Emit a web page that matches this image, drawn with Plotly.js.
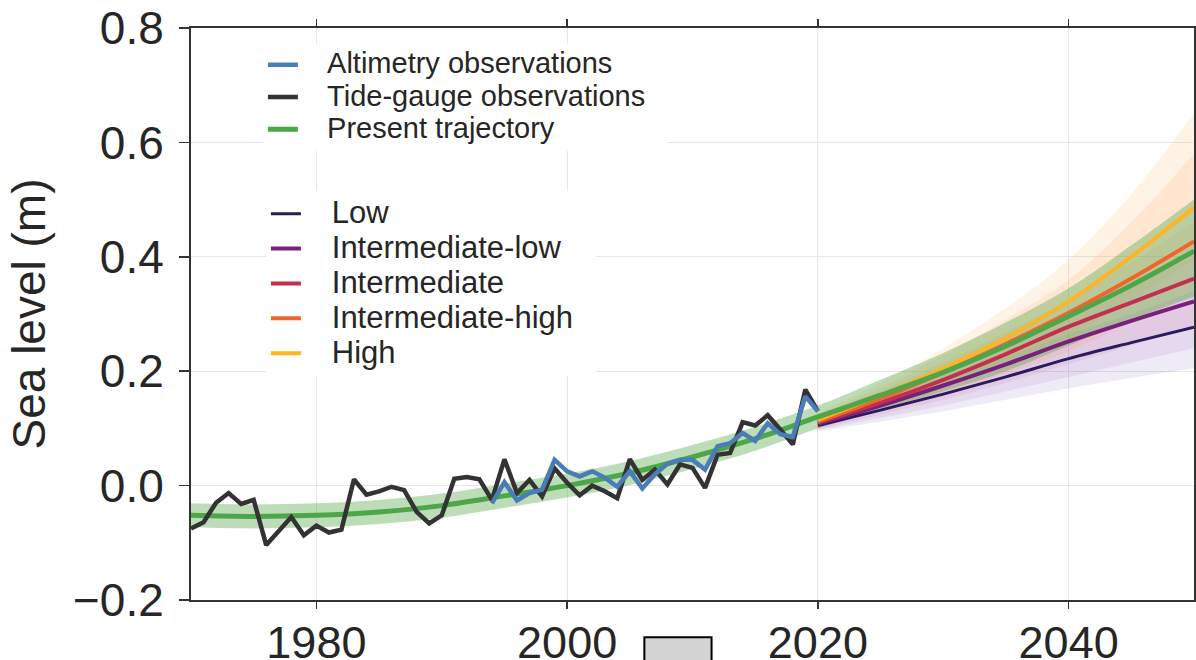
<!DOCTYPE html>
<html>
<head>
<meta charset="utf-8">
<script src="https://cdn.plot.ly/plotly-3.0.1.min.js"></script>
<style>html,body{margin:0;padding:0;background:#fff;}#chart{width:1196px;height:660px;}</style>
</head>
<body>
<div id="chart"></div>
<script>
// ---- Data ----
const tideYears = [1970,1971,1972,1973,1974,1975,1976,1977,1978,1979,1980,1981,1982,1983,1984,1985,1986,1987,1988,1989,1990,1991,1992,1993,1994,1995,1996,1997,1998,1999,2000,2001,2002,2003,2004,2005,2006,2007,2008,2009,2010,2011,2012,2013,2014,2015,2016,2017,2018,2019,2020];
const tideLevel = [-0.075,-0.064,-0.030,-0.013,-0.032,-0.025,-0.104,-0.080,-0.055,-0.087,
  -0.070,-0.082,-0.077,0.011,-0.016,-0.010,-0.002,-0.008,-0.046,-0.066,
  -0.052,0.012,0.015,0.011,-0.025,0.046,-0.013,0.010,-0.019,0.030,
  0.005,-0.017,0.000,-0.010,-0.022,0.046,0.010,0.028,0.002,0.037,
  0.031,-0.004,0.054,0.057,0.111,0.105,0.123,0.098,0.072,0.168,0.130];

const altYears = [1994,1995,1996,1997,1998,1999,2000,2001,2002,2003,2004,2005,2006,2007,2008,2009,2010,2011,2012,2013,2014,2015,2016,2017,2018,2019,2020];
const altLevel = [-0.031,0.006,-0.026,-0.013,-0.007,0.045,0.025,0.016,0.025,0.014,-0.002,0.025,-0.005,0.020,0.038,0.045,0.045,0.028,0.069,0.074,0.092,0.078,0.109,0.090,0.085,0.156,0.130];

const trajYears = [1970,1975,1980,1985,1990,1995,2000,2005,2010,2015,2020,2025,2030,2035,2040,2045,2050];
const trajMid   = [-0.052,-0.054,-0.052,-0.046,-0.035,-0.018,0.000,0.022,0.050,0.082,0.120,0.158,0.198,0.244,0.296,0.350,0.410];
const trajLow   = [-0.073,-0.075,-0.073,-0.067,-0.056,-0.039,-0.021,0.001,0.029,0.061,0.100,0.132,0.165,0.200,0.245,0.290,0.330];
const trajHigh  = [-0.031,-0.033,-0.031,-0.025,-0.014,0.003,0.021,0.043,0.071,0.103,0.140,0.185,0.232,0.285,0.345,0.420,0.500];

const scenYears = [2020,2025,2030,2035,2040,2045,2050];
const scenNames = ['Low','Intermediate-low','Intermediate','Intermediate-high','High'];
const scenMid = [
  [0.105,0.132,0.160,0.190,0.222,0.250,0.277],
  [0.108,0.140,0.175,0.212,0.252,0.288,0.322],
  [0.110,0.145,0.185,0.230,0.278,0.320,0.362],
  [0.112,0.152,0.198,0.248,0.302,0.362,0.427],
  [0.115,0.158,0.205,0.258,0.322,0.400,0.486]
];
const scenLow = [
  [0.095,0.112,0.130,0.150,0.170,0.188,0.205],
  [0.097,0.118,0.140,0.165,0.190,0.215,0.240],
  [0.099,0.124,0.150,0.180,0.212,0.245,0.278],
  [0.101,0.130,0.162,0.196,0.235,0.285,0.335],
  [0.103,0.136,0.172,0.212,0.258,0.325,0.395]
];
const scenHigh = [
  [0.115,0.150,0.188,0.225,0.265,0.300,0.340],
  [0.118,0.158,0.202,0.250,0.300,0.350,0.400],
  [0.121,0.166,0.215,0.268,0.325,0.390,0.460],
  [0.124,0.172,0.228,0.290,0.360,0.460,0.580],
  [0.128,0.180,0.240,0.310,0.395,0.510,0.650]
];

// ---- Styles ----
const scenColors = ['#2a1a5e','#7b1f7d','#c2304e','#f2652a','#fdb427'];
const scenFills  = ['rgba(120,100,190,0.13)','rgba(160,90,180,0.12)','rgba(220,90,120,0.10)','rgba(250,150,80,0.14)','rgba(253,190,110,0.18)'];
const green = '#4ea64a';
const pad = '\u00a0\u00a0\u00a0';
function lbl(t, px) { return '<span style="font-size:' + px + 'px">' + pad + t + '\u00a0\u00a0</span>'; }

const traces = [];
for (let i = 0; i < scenNames.length; i++) {
  traces.push({x: scenYears, y: scenLow[i], mode: 'lines', line: {width: 0, shape: 'spline'}, showlegend: false, hoverinfo: 'skip'});
  traces.push({x: scenYears, y: scenHigh[i], mode: 'lines', line: {width: 0, shape: 'spline'}, fill: 'tonexty', fillcolor: scenFills[i], showlegend: false, hoverinfo: 'skip'});
}
traces.push({x: trajYears, y: trajLow, mode: 'lines', line: {width: 0, shape: 'spline'}, showlegend: false, hoverinfo: 'skip'});
traces.push({x: trajYears, y: trajHigh, mode: 'lines', line: {width: 0, shape: 'spline'}, fill: 'tonexty', fillcolor: 'rgba(90,170,80,0.40)', showlegend: false, hoverinfo: 'skip'});
for (let i = 0; i < scenNames.length; i++) {
  traces.push({x: scenYears, y: scenMid[i], mode: 'lines', name: lbl(scenNames[i], 31), legend: 'legend2',
    line: {color: scenColors[i], width: i === 0 ? 3 : 4, shape: 'spline'}});
}
const trajLine = {x: trajYears, y: trajMid, mode: 'lines', name: lbl('Present trajectory', 29), legend: 'legend', legendrank: 3,
  line: {color: green, width: 5, shape: 'spline'}};
const tide = {x: tideYears, y: tideLevel, mode: 'lines', name: lbl('Tide-gauge observations', 29), legend: 'legend', legendrank: 2,
  line: {color: '#333333', width: 4.5}};
const alt = {x: altYears, y: altLevel, mode: 'lines', name: lbl('Altimetry observations', 29), legend: 'legend', legendrank: 1,
  line: {color: '#4a7db5', width: 4.5}};
traces.push(trajLine, tide, alt);

const fam = 'Liberation Sans, Arial, sans-serif';
const layout = {
  width: 1196, height: 660,
  margin: {l: 191, r: 2, t: 28, b: 60},
  paper_bgcolor: '#ffffff', plot_bgcolor: '#ffffff',
  font: {family: fam, color: '#262626'},
  xaxis: {range: [1970, 2050], tick0: 1980, dtick: 20, ticks: 'outside', ticklen: 7, tickwidth: 1.5, tickcolor: '#333',
    showline: true, linecolor: '#333', linewidth: 2, mirror: 'ticks', showgrid: true, gridcolor: '#e6e6e6', gridwidth: 1.2,
    zeroline: false, tickfont: {family: fam, size: 45, color: '#262626'}, ticklabelstandoff: -5, automargin: false},
  yaxis: {range: [-0.2, 0.8], tick0: 0, dtick: 0.2, tickformat: '.1f', ticks: 'outside', ticklen: 10, tickwidth: 1.5, tickcolor: '#333',
    showline: true, linecolor: '#333', linewidth: 2, mirror: 'ticks', showgrid: true, gridcolor: '#e6e6e6', gridwidth: 1.2,
    zeroline: false, tickfont: {family: fam, size: 46, color: '#262626'}, ticklabelstandoff: 6,
    title: {text: 'Sea level (m)', font: {family: fam, size: 46, color: '#262626'}, standoff: 13}, automargin: false},
  legend: {x: 0.0717, y: 0.9728, xanchor: 'left', yanchor: 'top', bgcolor: '#ffffff', borderwidth: 0,
    font: {size: 22.5, color: '#262626'}, traceorder: 'normal', itemwidth: 30},
  legend2: {x: 0.0747, y: 0.7145, xanchor: 'left', yanchor: 'top', bgcolor: '#ffffff', borderwidth: 0,
    font: {size: 24.5, color: '#262626'}, traceorder: 'normal', itemwidth: 30},
  shapes: [{type: 'rect', xref: 'paper', yref: 'paper', x0: 0.452, x1: 0.519, y0: -0.11, y1: -0.065,
    fillcolor: '#d3d3d3', line: {color: '#000', width: 2}, layer: 'above'}],
  showlegend: true
};
Plotly.newPlot('chart', traces, layout, {staticPlot: true, displayModeBar: false});
</script>
</body>
</html>
